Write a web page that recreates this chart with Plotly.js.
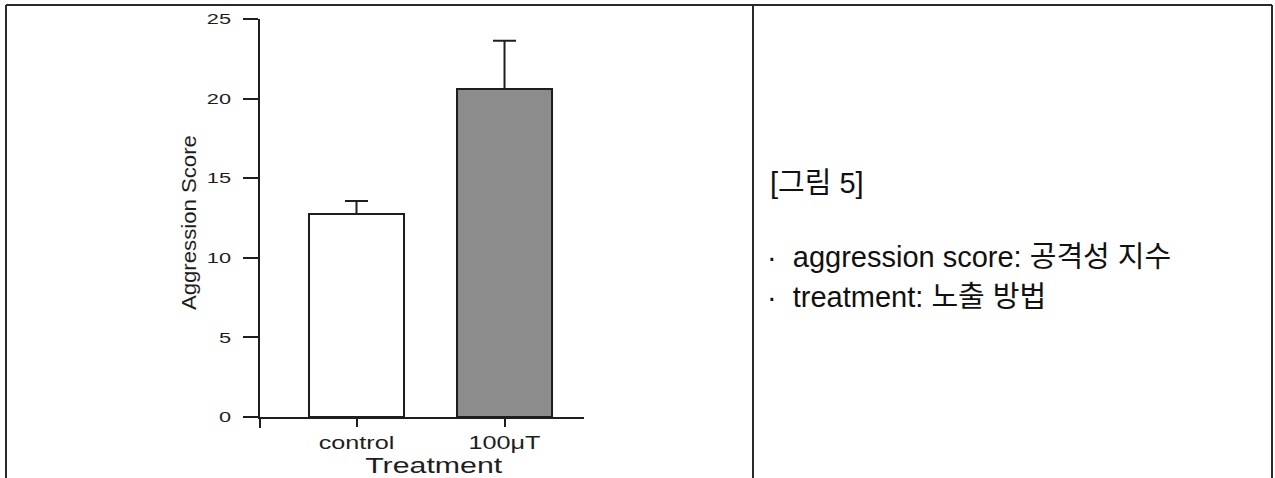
<!DOCTYPE html>
<html>
<head>
<meta charset="utf-8">
<script src="https://cdn.plot.ly/plotly-3.0.1.min.js"></script>
<style>
  html, body { margin: 0; padding: 0; background: #ffffff; }
  #chart { width: 1275px; height: 478px; }
</style>
</head>
<body>
<div id="chart"></div>
<script>
// ---- data ----
const categories = ['control', '100\u03bcT'];
const means = [12.75, 20.6];
const errUp = [0.82, 3.04];
const barColors = ['#ffffff', '#8c8c8c'];
const yTickVals = [0, 5, 10, 15, 20, 25];
const yTitle = 'Aggression Score';
const xTitle = 'Treatment';
const noteHeading = '[그림 5]';
const noteLines = ['aggression score: 공격성 지수', 'treatment: 노출 방법'];

// ---- layout geometry (pixels) ----
const W = 1275, H = 478;
const L = 260, R = 584, T = 19, B = 417;
const px = v => (v - L) / (R - L);
const py = v => (B - v) / (B - T);
const ink = '#1e1e1e';
const frame = '#2a2a2a';
const NB = '\u00a0';
const noteFont = { size: 29, color: '#111', family: 'Liberation Sans, Noto Sans CJK KR, sans-serif' };

const trace = {
  type: 'bar',
  x: categories,
  y: means,
  width: 0.642,
  marker: { color: barColors, line: { color: ink, width: 2 } },
  error_y: {
    type: 'data', symmetric: false, array: errUp, arrayminus: [0, 0],
    color: ink, thickness: 2, width: 11.5
  },
  hoverinfo: 'skip'
};

function line(x0, y0, x1, y1, color, w) {
  return { type: 'line', xref: 'paper', yref: 'paper',
    x0: px(x0), x1: px(x1), y0: py(y0), y1: py(y1),
    line: { color: color, width: w } };
}

const layout = {
  width: W, height: H,
  margin: { l: L, r: W - R, t: T, b: H - B, pad: 0 },
  paper_bgcolor: '#ffffff', plot_bgcolor: '#ffffff',
  showlegend: false,
  font: { family: 'Liberation Sans, Arial, sans-serif', color: ink },
  xaxis: {
    type: 'category', range: [-0.652, 1.537],
    showline: true, linecolor: ink, linewidth: 2,
    ticks: 'outside', ticklen: 8, tickwidth: 2, tickcolor: ink,
    showgrid: false, zeroline: false,
    tickfont: { size: 18, color: ink }, ticklabelstandoff: 0,
    fixedrange: true
  },
  yaxis: {
    range: [0, 25], tickvals: yTickVals,
    showline: true, linecolor: ink, linewidth: 2,
    ticks: 'outside', ticklen: 15, tickwidth: 2, tickcolor: ink,
    showgrid: false, zeroline: false,
    tickfont: { size: 15, color: ink }, ticklabelstandoff: 9,
    fixedrange: true
  },
  shapes: [
    line(260, 417, 260, 428, ink, 2),
    line(6, 5, 1272, 5, frame, 2),
    line(6, 5, 6, 480, frame, 2),
    line(753, 5, 753, 480, frame, 2),
    line(1272, 5, 1272, 480, frame, 2)
  ],
  annotations: [
    { text: yTitle, xref: 'paper', yref: 'paper', x: px(188), y: py(222.5),
      xanchor: 'center', yanchor: 'middle', textangle: -90, showarrow: false,
      font: { size: 21, color: ink, family: 'Liberation Sans, Arial, sans-serif' } },
    { text: xTitle, xref: 'paper', yref: 'paper', x: px(433.5), y: py(465.5),
      xanchor: 'center', yanchor: 'middle', showarrow: false,
      font: { size: 22, color: ink, family: 'Liberation Sans, Arial, sans-serif' } },
    { text: noteHeading, xref: 'paper', yref: 'paper', x: px(768), y: py(183),
      xanchor: 'left', yanchor: 'middle', showarrow: false, font: noteFont },
    { text: '\u00b7' + NB + NB + noteLines[0], xref: 'paper', yref: 'paper', x: px(765), y: py(257),
      xanchor: 'left', yanchor: 'middle', showarrow: false, font: noteFont },
    { text: '\u00b7' + NB + NB + noteLines[1], xref: 'paper', yref: 'paper', x: px(765), y: py(297),
      xanchor: 'left', yanchor: 'middle', showarrow: false, font: noteFont }
  ]
};

function stretch(nodes, factor, target) {
  nodes.forEach(t => {
    const len = t.getComputedTextLength();
    if (!len) return;
    t.setAttribute('textLength', (target || len * factor).toFixed(1));
    t.setAttribute('lengthAdjust', 'spacingAndGlyphs');
  });
}

Plotly.newPlot('chart', [trace], layout, { staticPlot: true, displayModeBar: false }).then(gd => {
  stretch(gd.querySelectorAll('.ytick text'), 1.45);
  stretch(gd.querySelectorAll('.xtick text'), 1.4);
  stretch(gd.querySelectorAll('.annotation[data-index="0"] text'), 1, 175);
  stretch(gd.querySelectorAll('.annotation[data-index="1"] text'), 1, 137);
});
</script>
</body>
</html>
